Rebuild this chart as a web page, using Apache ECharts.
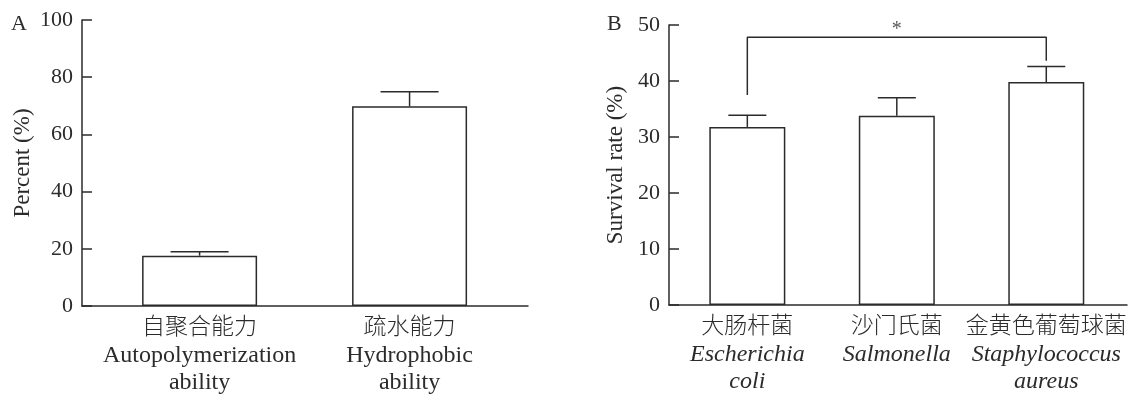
<!DOCTYPE html>
<html>
<head>
<meta charset="utf-8">
<script src="https://cdn.jsdelivr.net/npm/echarts@6/dist/echarts.min.js"></script>
<style>
html, body { margin: 0; padding: 0; background: #fff; }
#main { width: 1134px; height: 395px; }
</style>
</head>
<body>
<div id="main"></div>
<script>
// panel A
const posA = [1, 2]
const cnA = ['自聚合能力', '疏水能力']
const enA = [['Autopolymerization', 'ability'], ['Hydrophobic', 'ability']]
const meanA = [17.6, 69.8]
const sdA = [1.4, 5.1]

// panel B
const posB = [1, 2, 3]
const cnB = ['大肠杆菌', '沙门氏菌', '金黄色葡萄球菌']
const enB = [['Escherichia', 'coli'], ['Salmonella'], ['Staphylococcus', 'aureus']]
const meanB = [31.8, 33.8, 39.8]
const sdB = [2.1, 3.2, 2.8]

// significance bracket between bar 1 and bar 3
const bracketB = [[1, 37.5], [1, 47.8], [3, 47.8], [3, 43.6]]
const starB = [[2, 47.8]]

const ink = '#2b2b2b'
const serif = '"Liberation Serif", "Times New Roman", "Noto Sans CJK SC", serif'

const chart = echarts.init(document.getElementById('main'))

const richLabel = {
  cn: { fontFamily: '"Noto Sans CJK SC", sans-serif', fontSize: 23, lineHeight: 34, color: ink, fontWeight: 300 },
  en: { fontFamily: serif, fontSize: 24, lineHeight: 27, color: ink },
  it: { fontFamily: serif, fontSize: 24, lineHeight: 27, color: ink, fontStyle: 'italic' }
}

const makeFormatter = (pos, cn, en, style) => v => {
  const i = pos.indexOf(Math.round(v))
  if (i < 0) return ''
  return ['{cn|' + cn[i] + '}'].concat(en[i].map(s => '{' + style + '|' + s + '}')).join('\n')
}

const errRender = capW => (params, api) => {
  const x = api.value(0)
  const p0 = api.coord([x, api.value(1)])
  const p1 = api.coord([x, api.value(2)])
  const st = { stroke: ink, lineWidth: 1.5 }
  return {
    type: 'group',
    children: [
      { type: 'line', shape: { x1: p0[0], y1: p0[1], x2: p1[0], y2: p1[1] }, style: st },
      { type: 'line', shape: { x1: p1[0] - capW / 2, y1: p1[1], x2: p1[0] + capW / 2, y2: p1[1] }, style: st }
    ]
  }
}

const yAxisBase = {
  type: 'value',
  min: 0,
  nameLocation: 'middle',
  nameTextStyle: { fontFamily: serif, fontSize: 23, color: ink },
  axisLine: { show: true, lineStyle: { color: ink, width: 1.5 } },
  axisTick: { show: true, inside: true, length: 10, lineStyle: { color: ink, width: 1.5 } },
  axisLabel: { fontFamily: serif, fontSize: 22, color: ink, margin: 9 },
  splitLine: { show: false }
}

const xAxisBase = {
  type: 'value',
  axisLine: { show: true, onZero: false, lineStyle: { color: ink, width: 1.5 } },
  axisTick: { show: false },
  splitLine: { show: false }
}

chart.setOption({
  animation: false,
  backgroundColor: '#fff',
  title: [
    { text: 'A', left: 6, top: 8, textStyle: { fontFamily: serif, fontSize: 22, fontWeight: 'normal', color: ink } },
    { text: 'B', left: 602, top: 8, textStyle: { fontFamily: serif, fontSize: 22, fontWeight: 'normal', color: ink } }
  ],
  grid: [
    { left: 82, top: 20, width: 446, height: 286, outerBoundsMode: 'none' },
    { left: 669, top: 25, width: 458, height: 280, outerBoundsMode: 'none' }
  ],
  xAxis: [
    Object.assign({}, xAxisBase, {
      gridIndex: 0, min: 0.44, max: 2.564,
      axisLabel: { customValues: posA, margin: 2, formatter: makeFormatter(posA, cnA, enA, 'en'), rich: richLabel }
    }),
    Object.assign({}, xAxisBase, {
      gridIndex: 1, min: 0.476, max: 3.54,
      axisLabel: { customValues: posB, margin: 2, formatter: makeFormatter(posB, cnB, enB, 'it'), rich: richLabel }
    })
  ],
  yAxis: [
    Object.assign({}, yAxisBase, { gridIndex: 0, max: 100, interval: 20, name: 'Percent (%)', nameGap: 48 }),
    Object.assign({}, yAxisBase, { gridIndex: 1, max: 50, interval: 10, name: 'Survival rate (%)', nameGap: 42 })
  ],
  series: [
    {
      type: 'bar', xAxisIndex: 0, yAxisIndex: 0, barWidth: 115,
      data: posA.map((p, i) => [p, meanA[i]]),
      itemStyle: { color: '#fff', borderColor: ink, borderWidth: 1.5 }
    },
    {
      type: 'custom', xAxisIndex: 0, yAxisIndex: 0, renderItem: errRender(58),
      encode: { x: 0, y: [1, 2] },
      data: posA.map((p, i) => [p, meanA[i], meanA[i] + sdA[i]])
    },
    {
      type: 'bar', xAxisIndex: 1, yAxisIndex: 1, barWidth: 76,
      data: posB.map((p, i) => [p, meanB[i]]),
      itemStyle: { color: '#fff', borderColor: ink, borderWidth: 1.5 }
    },
    {
      type: 'custom', xAxisIndex: 1, yAxisIndex: 1, renderItem: errRender(38),
      encode: { x: 0, y: [1, 2] },
      data: posB.map((p, i) => [p, meanB[i], meanB[i] + sdB[i]])
    },
    {
      type: 'line', xAxisIndex: 1, yAxisIndex: 1, data: bracketB,
      symbol: 'none', lineStyle: { color: ink, width: 1.5 }
    },
    {
      type: 'scatter', xAxisIndex: 1, yAxisIndex: 1, data: starB,
      symbolSize: 1, itemStyle: { color: 'rgba(0,0,0,0)' },
      label: { show: true, position: 'top', distance: -3, formatter: '*', fontFamily: serif, fontSize: 20, color: ink }
    }
  ]
})
</script>
</body>
</html>
